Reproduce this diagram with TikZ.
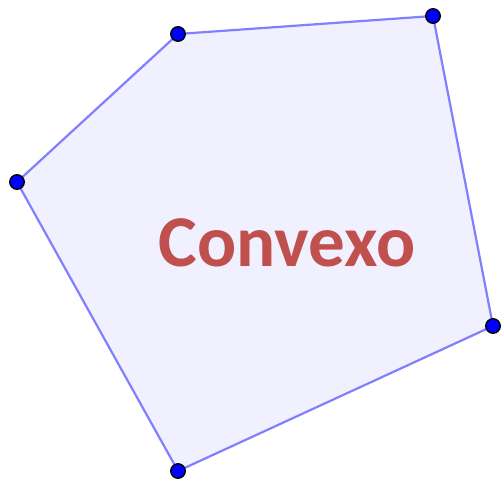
\documentclass[tikz,border=0pt]{standalone}
\usepackage{fontspec}
\setmainfont{Carlito}
\definecolor{edgeblue}{HTML}{8080FF}
\definecolor{fillblue}{HTML}{F0F0FE}
\definecolor{txtred}{HTML}{C0504D}
\begin{document}
\begin{tikzpicture}[x=1pt,y=-1pt,
  vertex/.style={circle,fill=blue,draw=black,line width=1.4pt,minimum size=14.5pt,inner sep=0pt},
  edge/.style={draw=edgeblue,line width=2.2pt}]
\useasboundingbox (0,0) rectangle (502,482);
\coordinate (A) at (178,34);
\coordinate (B) at (433,16);
\coordinate (C) at (493,326);
\coordinate (D) at (178,471);
\coordinate (E) at (17,182);
\fill[fillblue] (A) -- (B) -- (C) -- (D) -- (E) -- cycle;
\draw[edge,line join=round] (A) -- (B) -- (C) -- (D) -- (E) -- cycle;
\foreach \p in {A,B,C,D,E} \node[vertex] (n\p) at (\p) {};
\node[text=txtred,font=\fontsize{73}{80}\selectfont\bfseries,anchor=base,inner sep=0pt] (t) at (287,266) {Convexo};
\end{tikzpicture}
\end{document}
